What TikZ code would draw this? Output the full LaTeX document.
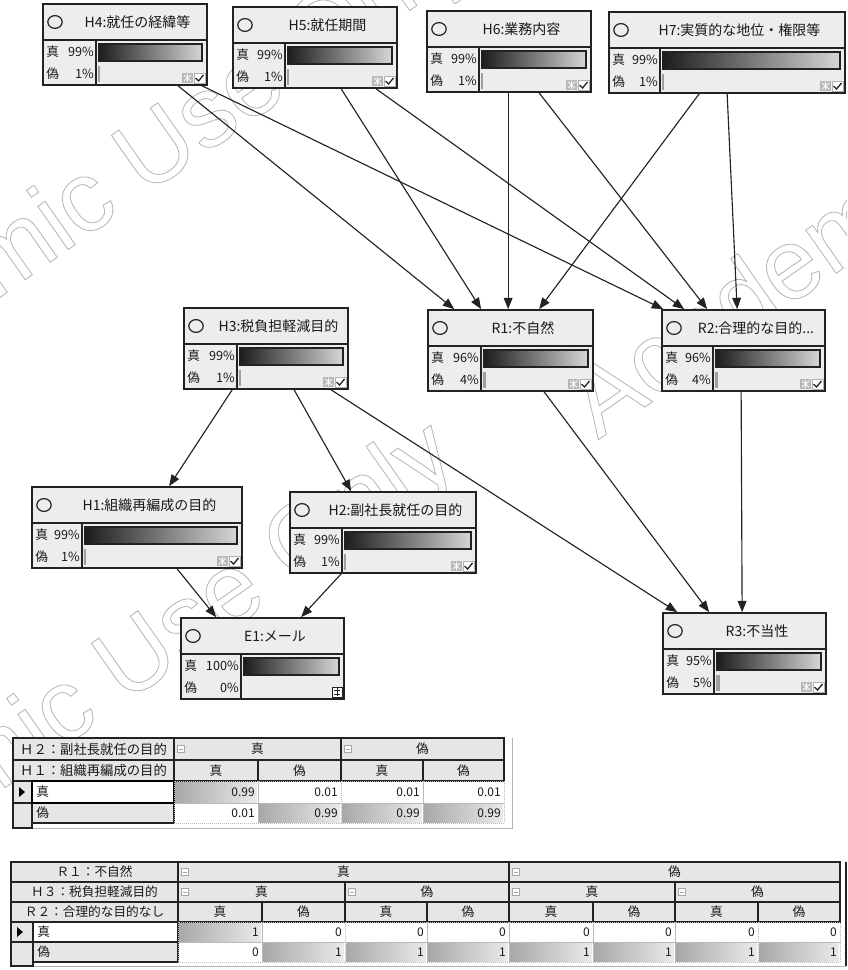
\documentclass[tikz,border=0pt]{standalone}
\usepackage{fontspec}
\setmainfont{Noto Sans CJK JP}
\newfontfamily\wmfont{Liberation Sans}
\usetikzlibrary{arrows.meta,calc,fit}

\definecolor{boxbg}{HTML}{EDEDED}
\definecolor{edgec}{HTML}{222222}
\definecolor{hdrbg}{HTML}{E6E6E6}
\definecolor{wmc}{HTML}{B5B5B5}
\definecolor{barlo}{HTML}{1C1C1C}
\definecolor{barhi}{HTML}{D6D6D6}
\definecolor{cellhi}{HTML}{A8A8A8}
\definecolor{celllo}{HTML}{EAEAEA}

\tikzset{
  bnframe/.style={draw=edgec, line width=1.3pt, fill=boxbg, inner sep=0pt},
  bnline/.style={draw=edgec, line width=1pt},
  bntitle/.style={font=\fontsize{10.5}{12}\selectfont, inner sep=0pt, text=black!90},
  bnrow/.style={font=\fontsize{9.5}{11}\selectfont, inner sep=0pt, text=black!90},
  link/.style={draw=edgec, line width=0.85pt, -{Triangle[length=8.5pt,width=6.6pt]}},
  tcell/.style={draw=edgec, line width=1pt, fill=hdrbg},
  ttext/.style={font=\fontsize{9.5}{11}\selectfont, inner sep=0pt, text=black!90},
  tval/.style={font=\fontsize{9}{10}\selectfont, inner sep=0pt, anchor=east, text=black!90},
  wmtext/.style={font=\wmfont\fontsize{75}{75}\selectfont, text=wmc, anchor=base west, rotate=35, inner sep=0pt},
}

% name, left, top, width, divider, title, true pct, false pct, false bar width
\newcommand{\bnnode}[9]{%
  \pgfmathsetmacro\bnR{#2+#4}%
  \pgfmathsetmacro\bnB{#3+81}%
  \pgfmathsetmacro\bnT{#3+36}%
  \pgfmathsetmacro\bnD{#2+#5}%
  \pgfmathsetmacro\bnTX{(#2+25+\bnR)/2}%
  \node[bnframe, fit={(#2,#3) (\bnR,\bnB)}] (#1) {};
  \draw[bnline] (#2,\bnT) -- (\bnR,\bnT);
  \draw[bnline] (\bnD,\bnT) -- (\bnD,\bnB);
  \draw[draw=edgec, line width=0.9pt] (#2+12,#3+18) ellipse [x radius=5.4pt, y radius=4.8pt];
  \node[bntitle] at (\bnTX,#3+18) {#6};
  \node[bnrow, anchor=west] at (#2+3,\bnT+12) {真};
  \node[bnrow, anchor=east] at (\bnD-2,\bnT+12) {#7};
  \node[bnrow, anchor=west] at (#2+3,\bnT+34) {偽};
  \node[bnrow, anchor=east] at (\bnD-2,\bnT+34) {#8};
  \draw[draw=edgec, line width=0.8pt, left color=barlo, right color=barhi] (\bnD+2.5,\bnT+4) rectangle (\bnR-5,\bnT+21);
  \ifdim #9pt>0pt
    \fill[gray!75] (\bnD+2,\bnT+26) rectangle (\bnD+2+#9,\bnB-3);
    \fill[gray!55] (\bnR-25,\bnB-12) rectangle (\bnR-14,\bnB-2);
    \draw[white, line width=0.6pt] (\bnR-23,\bnB-10) -- (\bnR-16,\bnB-4) (\bnR-23,\bnB-4) -- (\bnR-16,\bnB-10) (\bnR-19.5,\bnB-11) -- (\bnR-19.5,\bnB-3);
    \draw[gray!60, line width=0.5pt, fill=white] (\bnR-13,\bnB-12) rectangle (\bnR-2,\bnB-2);
    \draw[black!85, line width=1pt] (\bnR-11.5,\bnB-7) -- (\bnR-8.5,\bnB-4) -- (\bnR-3.5,\bnB-10);
  \else
    \draw[edgec, line width=0.6pt, fill=white] (\bnR-12,\bnB-12) rectangle (\bnR-2,\bnB-2);
    \draw[edgec, line width=0.6pt] (\bnR-10,\bnB-9) -- (\bnR-4,\bnB-9) (\bnR-7,\bnB-11) -- (\bnR-7,\bnB-3) (\bnR-10,\bnB-5) -- (\bnR-4,\bnB-5);
  \fi
}

% header cell
\newcommand{\hcell}[5]{%
  \draw[tcell] (#1,#2) rectangle (#3,#4);
  \node[ttext] at ({(#1+#3)/2},{(#2+#4)/2}) {#5};}
% spanning header cell with collapse box
\newcommand{\scell}[5]{%
  \draw[tcell] (#1,#2) rectangle (#3,#4);
  \draw[gray!70, line width=0.5pt, fill=white] (#1+3,{(#2+#4)/2-3.5}) rectangle (#1+10,{(#2+#4)/2+3.5});
  \draw[gray!70, line width=0.5pt] (#1+4.5,{(#2+#4)/2}) -- (#1+8.5,{(#2+#4)/2});
  \node[ttext] at ({(#1+#3)/2},{(#2+#4)/2}) {#5};}
% value cell
\newcommand{\vcell}[6]{%
  \ifnum#6=1
    \fill[left color=cellhi, right color=celllo] (#1+1,#2+1) rectangle (#3-1,#4-1);
  \else
    \fill[white] (#1+1,#2+1) rectangle (#3-1,#4-1);
  \fi
  \draw[gray!55, densely dotted, line width=0.5pt] (#1,#2) rectangle (#3,#4);
  \node[tval] at (#3-3,{(#2+#4)/2}) {#5};}

\begin{document}
\begin{tikzpicture}[x=0.75pt,y=-0.75pt]
\fill[white] (0,0) rectangle (847,970);
\useasboundingbox (0,0) rectangle (847,970);

% watermark
\begin{scope}
  \clip (0,0) rectangle (847,970);
  \node[wmtext] (wm1) at (-238,464) {\special{pdf:literal direct 1 Tr 0.6 w}Academic Use Only\special{pdf:literal direct 0 Tr}};
  \node[wmtext] (wm2) at (-258,972) {\special{pdf:literal direct 1 Tr 0.6 w}Academic Use Only\special{pdf:literal direct 0 Tr}};
  \node[wmtext] (wm3) at (598,440) {\special{pdf:literal direct 1 Tr 0.6 w}Academic Use Only\special{pdf:literal direct 0 Tr}};
\end{scope}

% network nodes
\bnnode{h4}{43}{4}{164}{53}{H4:就任の経緯等}{99\%}{1\%}{1.5}
\bnnode{h5}{233}{7}{164}{52}{H5:就任期間}{99\%}{1\%}{1.5}
\bnnode{h6}{427}{11}{164}{52}{H6:業務内容}{99\%}{1\%}{1.5}
\bnnode{h7}{609}{12}{236}{51}{H7:実質的な地位・権限等}{99\%}{1\%}{1.5}
\bnnode{h3}{184}{308}{164}{53}{H3:税負担軽減目的}{99\%}{1\%}{1.5}
\bnnode{r1}{428}{310}{165}{53}{R1:不自然}{96\%}{4\%}{3}
\bnnode{r2}{662}{310}{163}{51}{R2:合理的な目的...}{96\%}{4\%}{3}
\bnnode{h1}{32}{487}{210}{50}{H1:組織再編成の目的}{99\%}{1\%}{1.5}
\bnnode{h2}{290}{492}{186}{52}{H2:副社長就任の目的}{99\%}{1\%}{1.5}
\bnnode{e1}{181}{618}{163}{60}{E1:メール}{100\%}{0\%}{0}
\bnnode{r3}{663}{613}{163}{51}{R3:不当性}{95\%}{5\%}{3.5}

% connectors
\draw[link] ($(h4.south west)+(136,0)$) -- ($(r1.north west)+(27,0)$);
\draw[link] ($(h4.south west)+(160,0)$) -- ($(r2.north west)+(2,0)$);
\draw[link] ($(h5.south west)+(109,0)$) -- ($(r1.north west)+(54,0)$);
\draw[link] ($(h5.south west)+(144,0)$) -- ($(r2.north west)+(23,0)$);
\draw[link] ($(h6.south west)+(82,0)$) -- ($(r1.north west)+(81,0)$);
\draw[link] ($(h6.south west)+(113,0)$) -- ($(r2.north west)+(46,0)$);
\draw[link] ($(h7.south west)+(91,0)$) -- ($(r1.north west)+(112,0)$);
\draw[link] ($(h7.south west)+(119,0)$) -- ($(r2.north west)+(76,0)$);
\draw[link] ($(h3.south west)+(49,0)$) -- ($(h1.north west)+(138,0)$);
\draw[link] ($(h3.south west)+(111,0)$) -- ($(h2.north west)+(62,0)$);
\draw[link] ($(h3.south west)+(148,0)$) -- ($(r3.north west)+(15,0)$);
\draw[link] ($(r1.south west)+(117,0)$) -- ($(r3.north west)+(47,0)$);
\draw[link] ($(r2.south west)+(80,0)$) -- ($(r3.north west)+(80,0)$);
\draw[link] ($(h1.south west)+(146,0)$) -- ($(e1.north west)+(36,0)$);
\draw[link] ($(h2.south west)+(52,0)$) -- ($(e1.north west)+(121,0)$);

% ---------- table 1 ----------
\draw[gray!60, line width=0.6pt] (13,828) -- (512,828) -- (512,738);
\hcell{13}{738}{174}{760}{\fontsize{10}{11}\selectfont Ｈ２：副社長就任の目的}
\scell{174}{738}{341}{760}{真}
\scell{341}{738}{504}{760}{偽}
\hcell{13}{760}{174}{781}{\fontsize{10}{11}\selectfont Ｈ１：組織再編成の目的}
\hcell{174}{760}{258}{781}{真}
\hcell{258}{760}{341}{781}{偽}
\hcell{341}{760}{423}{781}{真}
\hcell{423}{760}{504}{781}{偽}
\draw[tcell] (13,781) rectangle (32,803);
\fill[black] (19,787) -- (25,792) -- (19,797) -- cycle;
\draw[tcell] (13,803) rectangle (32,828);
\draw[tcell] (32,803) rectangle (174,823);
\node[ttext, anchor=west] at (36,813) {偽};
\draw[draw=black, line width=1.5pt, fill=white] (32,781) rectangle (174,803);
\node[ttext, anchor=west] at (36,792) {真};
\vcell{174}{781}{258}{803}{0.99}{1}
\vcell{258}{781}{341}{803}{0.01}{0}
\vcell{341}{781}{423}{803}{0.01}{0}
\vcell{423}{781}{504}{803}{0.01}{0}
\vcell{174}{803}{258}{823}{0.01}{0}
\vcell{258}{803}{341}{823}{0.99}{1}
\vcell{341}{803}{423}{823}{0.99}{1}
\vcell{423}{803}{504}{823}{0.99}{1}

% ---------- table 2 ----------
\draw[gray!60, line width=0.6pt] (11,966) -- (846,966);
\draw[edgec, line width=1pt] (846,862) -- (846,966);
\hcell{11}{862}{178}{882}{Ｒ１：不自然}
\scell{178}{862}{509}{882}{真}
\scell{509}{862}{840}{882}{偽}
\hcell{11}{882}{178}{902}{Ｈ３：税負担軽減目的}
\scell{178}{882}{345}{902}{真}
\scell{345}{882}{509}{902}{偽}
\scell{509}{882}{675}{902}{真}
\scell{675}{882}{840}{902}{偽}
\hcell{11}{902}{178}{922}{Ｒ２：合理的な目的なし}
\hcell{178}{902}{262}{922}{真}
\hcell{262}{902}{345}{922}{偽}
\hcell{345}{902}{427}{922}{真}
\hcell{427}{902}{509}{922}{偽}
\hcell{509}{902}{593}{922}{真}
\hcell{593}{902}{675}{922}{偽}
\hcell{675}{902}{758}{922}{真}
\hcell{758}{902}{840}{922}{偽}
\draw[tcell] (11,922) rectangle (33,942);
\fill[black] (17,927) -- (23,932) -- (17,937) -- cycle;
\draw[tcell] (11,942) rectangle (33,966);
\draw[draw=edgec, line width=1pt, fill=white] (33,922) rectangle (178,942);
\node[ttext, anchor=west] at (37,932) {真};
\draw[tcell] (33,942) rectangle (178,962);
\node[ttext, anchor=west] at (37,952) {偽};
\vcell{178}{922}{262}{942}{1}{1}
\vcell{262}{922}{345}{942}{0}{0}
\vcell{345}{922}{427}{942}{0}{0}
\vcell{427}{922}{509}{942}{0}{0}
\vcell{509}{922}{593}{942}{0}{0}
\vcell{593}{922}{675}{942}{0}{0}
\vcell{675}{922}{758}{942}{0}{0}
\vcell{758}{922}{840}{942}{0}{0}
\vcell{178}{942}{262}{962}{0}{0}
\vcell{262}{942}{345}{962}{1}{1}
\vcell{345}{942}{427}{962}{1}{1}
\vcell{427}{942}{509}{962}{1}{1}
\vcell{509}{942}{593}{962}{1}{1}
\vcell{593}{942}{675}{962}{1}{1}
\vcell{675}{942}{758}{962}{1}{1}
\vcell{758}{942}{840}{962}{1}{1}
\end{tikzpicture}
\end{document}
